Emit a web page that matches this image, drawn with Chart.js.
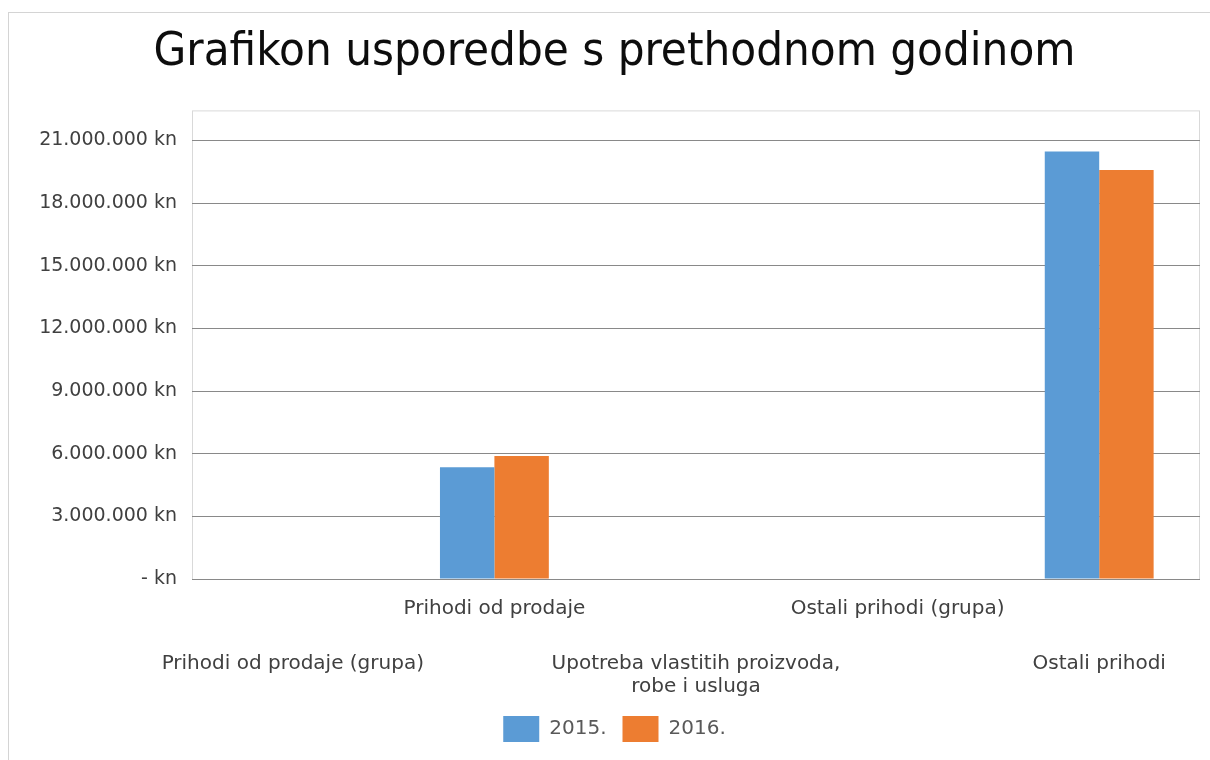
<!DOCTYPE html>
<html>
<head>
<meta charset="utf-8">
<script src="https://cdn.jsdelivr.net/npm/chart.js@4"></script>
<style>
  html, body { margin: 0; padding: 0; background: #fff; }
  #frame {
    position: absolute; left: 8px; top: 12px;
    width: 1202px; height: 748px;
    border-left: 1px solid #d4d4d4; border-top: 1px solid #d4d4d4;
  }
  #chart { display: block; }
</style>
</head>
<body>
<div id="frame"><canvas id="chart" width="1201" height="747"></canvas></div>
<script>
const categories = [
  "Prihodi od prodaje (grupa)",
  "Prihodi od prodaje",
  ["Upotreba vlastitih proizvoda,", "robe i usluga"],
  "Ostali prihodi (grupa)",
  "Ostali prihodi"
];
const seriesNames = ["2015.", "2016."];
const values2015 = [null, 5355000, null, null, 20470000];
const values2016 = [null, 5896000, null, null, 19580000];
const seriesColors = ["#5b9bd5", "#ed7d31"];
const yTickValues = [0, 3000000, 6000000, 9000000, 12000000, 15000000, 18000000, 21000000];
const yAxisMax = 22440000;

function kn(v) {
  if (v === 0) return "- kn";
  return String(v).replace(/\B(?=(\d{3})+(?!\d))/g, ".") + " kn";
}

// light border round the plot area, like the spreadsheet chart
const plotFrame = {
  id: "plotFrame",
  beforeDraw(chart) {
    const a = chart.chartArea, ctx = chart.ctx;
    ctx.save();
    ctx.strokeStyle = "#d9d9d9";
    ctx.lineWidth = 1;
    ctx.strokeRect(a.left + 0.5, a.top + 0.5, a.width - 1, a.height);
    ctx.restore();
  }
};

Chart.defaults.font.family = "'DejaVu Sans', sans-serif";
Chart.defaults.color = "#595959";

const ctx = document.getElementById("chart").getContext("2d");
window.compareChart = new Chart(ctx, {
  type: "bar",
  data: {
    labels: categories,
    datasets: [
      { label: seriesNames[0], data: values2015, backgroundColor: seriesColors[0] },
      { label: seriesNames[1], data: values2016, backgroundColor: seriesColors[1] }
    ]
  },
  options: {
    responsive: false,
    animation: false,
    categoryPercentage: 0.54,
    barPercentage: 1.0,
    borderWidth: 0,
    layout: { padding: { top: 0, right: 10, bottom: 8, left: 20 } },
    plugins: {
      title: {
        display: true,
        text: "Grafikon usporedbe s prethodnom godinom",
        color: "#0d0d0d",
        font: { family: "'DejaVu Sans Condensed', 'DejaVu Sans', sans-serif", size: 47, weight: "normal" },
        padding: { top: 12, bottom: 29 }
      },
      legend: {
        position: "bottom",
        labels: { boxWidth: 36, boxHeight: 26, padding: 16, font: { size: 20 }, color: "#595959" }
      },
      tooltip: { enabled: false }
    },
    scales: {
      x: {
        grid: { display: false },
        border: { display: false },
        ticks: {
          autoSkip: false, maxRotation: 0, padding: 10,
          font: { size: 20 }, color: "#404040",
          callback: function (value, index) { return index % 2 === 1 ? categories[index] : ""; }
        },
        afterFit(scale) { scale.height = 55; }
      },
      x2: {
        type: "category",
        position: "bottom",
        offset: true,
        grid: { display: false },
        border: { display: false },
        ticks: {
          autoSkip: false, maxRotation: 0, padding: 10,
          font: { size: 20, lineHeight: 1.15 }, color: "#404040",
          callback: function (value, index) { return index % 2 === 0 ? categories[index] : ""; }
        },
        afterFit(scale) { scale.height = 66; }
      },
      y: {
        min: 0,
        max: yAxisMax,
        grid: { color: "#898989", drawTicks: false },
        border: { display: false },
        ticks: {
          padding: 15,
          font: { size: 19 }, color: "#404040",
          callback: kn
        },
        afterBuildTicks(scale) {
          scale.ticks = yTickValues.map(v => ({ value: v }));
        },
        afterFit(scale) { scale.width = 163; }
      }
    }
  },
  plugins: [plotFrame]
});
</script>
</body>
</html>
